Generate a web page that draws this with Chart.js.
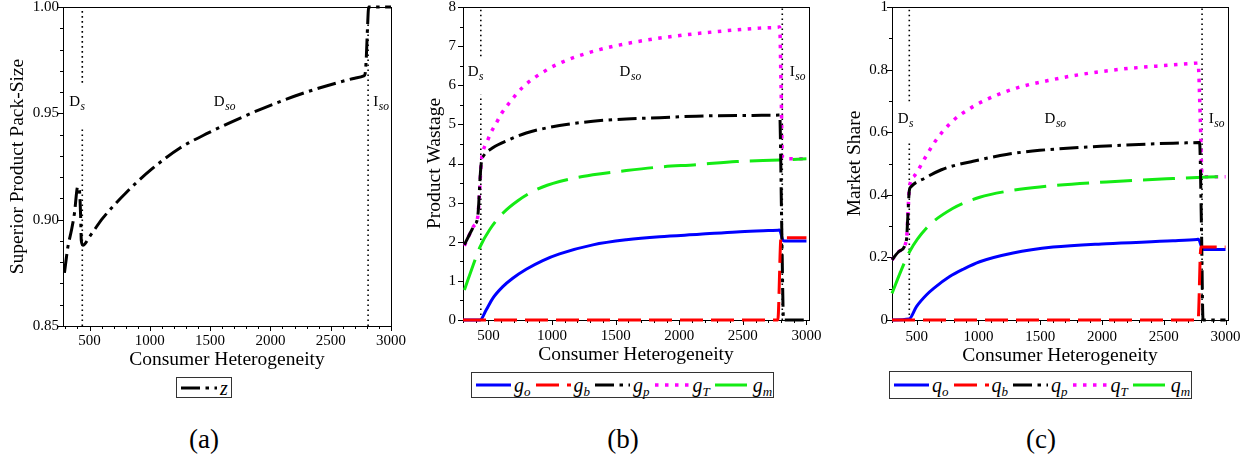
<!DOCTYPE html>
<html>
<head>
<meta charset="utf-8">
<script src="https://cdn.jsdelivr.net/npm/chart.js@4.4.1/dist/chart.umd.min.js"></script>
<style>
  body { margin: 0; background: #fff; }
  #wrap { position: relative; width: 1253px; height: 459px; overflow: hidden; font-family: 'Liberation Serif', 'Times New Roman', serif; color: #000; }
  canvas { position: absolute; top: 0; }
  .legend { position: absolute; border: 1px solid #333; box-sizing: border-box; display: flex; align-items: center; background: #fff; padding-left: 4px; }
  .item { display: flex; align-items: center; margin-right: 5px; white-space: nowrap; }
  .item svg { margin-right: 3px; }
  .lab { font-size: 20px; font-style: italic; line-height: 20px; }
  .lab sub { font-size: 13px; font-style: italic; vertical-align: -4px; line-height: 0; }
  .cap { position: absolute; font-size: 27px; line-height: 30px; top: 424px; transform: translateX(-50%); }
</style>
</head>
<body>
<div id="wrap">
  <canvas id="ca" width="420" height="372" style="left:0px"></canvas>
  <canvas id="cb" width="420" height="372" style="left:420px"></canvas>
  <canvas id="cc" width="413" height="372" style="left:840px"></canvas>
  <div class="legend" id="la" style="left:176px; top:377px; width:56px; height:21px;"></div>
  <div class="legend" id="lb" style="left:471px; top:372px; width:303px; height:26px;"></div>
  <div class="legend" id="lc" style="left:889px; top:371px; width:303px; height:28px;"></div>
  <div class="cap" style="left:204px">(a)</div>
  <div class="cap" style="left:623px">(b)</div>
  <div class="cap" style="left:1041px">(c)</div>
</div>
<script>
// ---------------- DATA ----------------
// Region boundaries (consumer heterogeneity)
const boundaryDs = 440;
const boundaryIso = 2810;

// Panel (a): superior product pack-size z
const z_x = [292, 320, 350, 375, 402, 412, 420, 426, 432, 445, 500, 610, 805, 1010, 1250, 1485, 1750, 2050, 2300, 2550, 2700, 2775, 2785, 2795, 2805, 2815, 3000];
const z_y = [0.875, 0.887, 0.895, 0.903, 0.9155, 0.915, 0.911, 0.902, 0.890, 0.888, 0.892, 0.9007, 0.9128, 0.9235, 0.9337, 0.9408, 0.9478, 0.9549, 0.960, 0.9643, 0.9665, 0.9676, 0.9685, 0.976, 0.99, 1.0, 1.0];

// Panel (b): product wastage
const go_x = [300, 435, 482, 534, 613, 691, 797, 927, 1059, 1321, 1584, 1846, 2160, 2450, 2700, 2780, 2788, 2815, 2830, 3000];
const go_y = [0, 0, 0.256, 0.555, 0.853, 1.067, 1.297, 1.52, 1.69, 1.92, 2.05, 2.13, 2.19, 2.25, 2.285, 2.297, 2.298, 2.04, 2.02, 2.02];
const gb_x = [300, 2775, 2800, 3000];
const gb_y = [0, 0, 2.1, 2.1];
const gp_x = [311, 350, 390, 416, 424, 435, 447, 458, 534, 665, 797, 1059, 1321, 1584, 1846, 2134, 2580, 2780, 2790, 2805, 2820, 3000];
const gp_y = [1.92, 2.18, 2.43, 2.64, 2.99, 3.67, 4.1, 4.18, 4.40, 4.61, 4.78, 4.97, 5.08, 5.14, 5.17, 5.21, 5.23, 5.238, 5.24, 2.5, 0, 0];
const gT_x = [311, 350, 382, 416, 429, 443, 455, 487, 521, 561, 605, 652, 770, 967, 1124, 1373, 1610, 1950, 2292, 2633, 2780, 2790, 2800, 2812, 2830, 3000];
const gT_y = [1.9, 2.18, 2.39, 2.64, 3.2, 4.01, 4.28, 4.54, 4.80, 5.03, 5.29, 5.5, 5.95, 6.41, 6.65, 6.91, 7.08, 7.25, 7.37, 7.46, 7.485, 7.49, 6.0, 4.15, 4.12, 4.12];
const gm_x = [311, 376, 435, 508, 613, 731, 875, 1059, 1321, 1584, 1846, 2134, 2450, 2790, 3000];
const gm_y = [0.768, 1.365, 1.877, 2.30, 2.73, 3.05, 3.33, 3.54, 3.71, 3.82, 3.91, 3.97, 4.05, 4.09, 4.12];

// Panel (c): market share
const qo_x = [300, 438, 498, 578, 640, 767, 880, 1010, 1280, 1604, 2036, 2575, 2770, 2780, 2812, 2830, 3000];
const qo_y = [0, 0.003, 0.043, 0.08, 0.102, 0.139, 0.163, 0.186, 0.214, 0.233, 0.244, 0.253, 0.2575, 0.258, 0.228, 0.225, 0.225];
const qb_x = [300, 2778, 2800, 3000];
const qb_y = [0, 0, 0.233, 0.233];
const qp_x = [300, 360, 417, 428, 440, 452, 565, 700, 820, 956, 1226, 1496, 2036, 2576, 2780, 2790, 2805, 2818, 3000];
const qp_y = [0.192, 0.22, 0.256, 0.33, 0.413, 0.425, 0.453, 0.48, 0.495, 0.507, 0.529, 0.542, 0.556, 0.565, 0.5668, 0.567, 0.3, 0, 0];
const qT_x = [300, 360, 417, 428, 440, 484, 578, 659, 781, 915, 1064, 1307, 1563, 1820, 2171, 2441, 2768, 2778, 2795, 2810, 2830, 3000];
const qT_y = [0.192, 0.22, 0.256, 0.33, 0.42, 0.462, 0.525, 0.576, 0.632, 0.672, 0.704, 0.741, 0.765, 0.784, 0.802, 0.811, 0.8207, 0.821, 0.65, 0.46, 0.458, 0.458];
const qm_x = [300, 376, 443, 578, 794, 1010, 1226, 1496, 2036, 2576, 3000];
const qm_y = [0.085, 0.16, 0.219, 0.293, 0.357, 0.392, 0.411, 0.425, 0.441, 0.452, 0.459];

// Axis titles
const xTitle = 'Consumer Heterogeneity';
const yTitles = ['Superior Product Pack-Size', 'Product Wastage', 'Market Share'];

// ---------------- HELPERS ----------------
const FONT = "'Liberation Serif', 'Times New Roman', serif";
const pts = (xs, ys) => xs.map((x, i) => ({ x: x, y: ys[i] }));
const isMult = (v, s) => Math.abs(v / s - Math.round(v / s)) < 1e-6;

function series(label, sub, xs, ys, color, dash, order, width) {
  return {
    label: label, sub: sub, data: pts(xs, ys), borderColor: color, backgroundColor: color,
    borderWidth: width || 3, borderDash: dash, pointRadius: 0, fill: false, order: order,
    cubicInterpolationMode: 'monotone', borderCapStyle: 'butt', clip: 3, isSeries: true
  };
}
function boundary(xv, ymin, ymax, gapLo, gapHi) {
  const d = gapLo == null
    ? [{ x: xv, y: ymin }, { x: xv, y: ymax }]
    : [{ x: xv, y: ymin }, { x: xv, y: gapLo }, { x: xv, y: null }, { x: xv, y: gapHi }, { x: xv, y: ymax }];
  return { data: d, borderColor: '#000', borderWidth: 1.6, borderDash: [1.6, 3.4], pointRadius: 0,
           tension: 0, spanGaps: false, order: 10, isSeries: false };
}

const framePlugin = {
  id: 'frame',
  beforeDatasetsDraw(chart, args, o) {
    const { ctx, chartArea: a, scales: { x, y } } = chart;
    ctx.save();
    ctx.strokeStyle = '#000';
    ctx.lineWidth = 1;
    ctx.strokeRect(Math.round(a.left) + 0.5, Math.round(a.top) + 0.5, Math.round(a.right - a.left), Math.round(a.bottom - a.top));
    ctx.beginPath();
    x.ticks.forEach(t => {
      if (!isMult(t.value, o.xMinor)) return;
      const px = Math.round(x.getPixelForValue(t.value)) + 0.5;
      const len = isMult(t.value, o.xMajor) ? 5 : 3;
      ctx.moveTo(px, Math.round(a.bottom)); ctx.lineTo(px, Math.round(a.bottom) + len);
    });
    y.ticks.forEach(t => {
      if (!isMult(t.value, o.yMinor)) return;
      const py = Math.round(y.getPixelForValue(t.value)) + 0.5;
      const len = isMult(t.value, o.yMajor) ? 5 : 3;
      ctx.moveTo(Math.round(a.left), py); ctx.lineTo(Math.round(a.left) - len, py);
    });
    ctx.stroke();
    ctx.restore();
  }
};

const annotPlugin = {
  id: 'annot',
  afterDatasetsDraw(chart, args, o) {
    const { ctx, scales: { x, y } } = chart;
    (o.labels || []).forEach(l => {
      const px = x.getPixelForValue(l.x), py = y.getPixelForValue(l.y);
      ctx.save();
      ctx.fillStyle = '#000';
      ctx.textAlign = 'left';
      ctx.textBaseline = 'alphabetic';
      ctx.font = '15px ' + FONT;
      ctx.fillText(l.main, px, py);
      const w = ctx.measureText(l.main).width;
      ctx.font = 'italic 11.5px ' + FONT;
      ctx.fillText(l.sub, px + w + 0.5, py + 4);
      ctx.restore();
    });
  }
};

function makeChart(id, cfg) {
  const yfmt = cfg.yfmt;
  return new Chart(document.getElementById(id), {
    type: 'line',
    data: { datasets: cfg.datasets },
    plugins: [framePlugin, annotPlugin],
    options: {
      responsive: false, animation: false, devicePixelRatio: 1,
      layout: { padding: { left: 0, top: 7, right: cfg.padRight, bottom: 0 } },
      plugins: {
        legend: { display: false }, tooltip: { enabled: false },
        frame: { xMajor: 500, xMinor: 100, yMajor: cfg.yMajor, yMinor: cfg.yMinor },
        annot: { labels: cfg.labels }
      },
      scales: {
        x: {
          type: 'linear', min: cfg.xmin, max: cfg.xmax,
          grid: { display: false, drawTicks: false }, border: { display: false },
          ticks: {
            stepSize: 100, autoSkip: false, includeBounds: false, maxRotation: 0, padding: cfg.xPad,
            color: '#000', font: { family: FONT, size: 15 },
            callback: v => isMult(v, 500) ? String(Math.round(v)) : ''
          },
          title: { display: true, text: xTitle, color: '#000', font: { family: FONT, size: 19.5 }, padding: { top: 0, bottom: cfg.xTitlePad } },
          afterFit: s => { s.height = cfg.xHeight; s.paddingLeft = 0; s.paddingRight = 0; }
        },
        y: {
          type: 'linear', min: cfg.ymin, max: cfg.ymax,
          grid: { display: false, drawTicks: false }, border: { display: false },
          ticks: {
            stepSize: cfg.yMinor, autoSkip: false, includeBounds: false, padding: cfg.yPad,
            color: '#000', font: { family: FONT, size: 15 },
            callback: v => isMult(v, cfg.yMajor) ? yfmt(v) : ''
          },
          title: { display: true, text: cfg.yTitle, color: '#000', font: { family: FONT, size: 19.5 }, padding: { top: cfg.yTitlePad, bottom: 0 } },
          afterFit: s => { s.width = cfg.yWidth; s.paddingTop = 0; s.paddingBottom = 0; }
        }
      }
    }
  });
}

function buildLegend(id, datasets, sampleLen) {
  const el = document.getElementById(id);
  datasets.filter(d => d.isSeries).sort((a, b) => a.legendIdx - b.legendIdx).forEach(d => {
    const item = document.createElement('div');
    item.className = 'item';
    const dash = (d.borderDash || []).join(' ');
    item.innerHTML = '<svg width="' + sampleLen + '" height="8"><line x1="0" y1="4" x2="' + sampleLen + '" y2="4" stroke="' + d.borderColor +
      '" stroke-width="' + d.borderWidth + '" stroke-dasharray="' + dash + '"/></svg>' +
      '<span class="lab"><i>' + d.label + '</i>' + (d.sub ? '<sub>' + d.sub + '</sub>' : '') + '</span>';
    el.appendChild(item);
  });
}

// ---------------- COLORS / STYLES ----------------
const BLUE = 'rgb(0,0,255)', RED = 'rgb(255,0,0)', BLACK = '#000', MAG = 'rgb(255,0,255)', GREEN = 'rgb(20,235,20)';
const DASH_B = [23, 8], DASH_P = [19, 5.5, 3.5, 5.5], DASH_T = [3.5, 6.5], DASH_M = [32, 11], DASH_Z = [19, 5.5, 3.5, 5.5];

// ---------------- PANEL (a) ----------------
const dsA = [
  Object.assign(series('z', '', z_x, z_y, BLACK, DASH_Z, 0, 3), { legendIdx: 0 }),
  boundary(boundaryDs, 0.85, 1.0, 0.9433, 0.9644),
  boundary(boundaryIso, 0.85, 1.0)
];
makeChart('ca', {
  datasets: dsA, xmin: 280, xmax: 3000, ymin: 0.85, ymax: 1.0, yMajor: 0.05, yMinor: 0.01,
  yfmt: v => v.toFixed(2), yTitle: yTitles[0], padRight: 29, xHeight: 46, yWidth: 63,
  xPad: 6, yPad: 4, xTitlePad: 0, yTitlePad: 6,
  labels: [{ x: 331, y: 0.9536, main: 'D', sub: 's' }, { x: 1531, y: 0.9536, main: 'D', sub: 'so' }, { x: 2853, y: 0.9536, main: 'I', sub: 'so' }]
});
buildLegend('la', dsA, 36);

// ---------------- PANEL (b) ----------------
const dsB = [
  Object.assign(series('g', 'o', go_x, go_y, BLUE, [], 3), { legendIdx: 0 }),
  Object.assign(series('g', 'b', gb_x, gb_y, RED, DASH_B, 1), { legendIdx: 1 }),
  Object.assign(series('g', 'p', gp_x, gp_y, BLACK, DASH_P, 2), { legendIdx: 2 }),
  Object.assign(series('g', 'T', gT_x, gT_y, MAG, DASH_T, 5, 3.5), { legendIdx: 3 }),
  Object.assign(series('g', 'm', gm_x, gm_y, GREEN, DASH_M, 4), { legendIdx: 4 }),
  boundary(boundaryDs, 0, 8, 5.76, 6.74),
  boundary(boundaryIso, 0, 8)
];
makeChart('cb', {
  datasets: dsB, xmin: 300, xmax: 3020, ymin: 0, ymax: 8, yMajor: 1, yMinor: 0.5,
  yfmt: v => String(Math.round(v)), yTitle: yTitles[1], padRight: 31, xHeight: 52, yWidth: 43,
  xPad: 7, yPad: 7, xTitlePad: 5, yTitlePad: 3,
  labels: [{ x: 337, y: 6.23, main: 'D', sub: 's' }, { x: 1531, y: 6.23, main: 'D', sub: 'so' }, { x: 2869, y: 6.23, main: 'I', sub: 'so' }]
});
buildLegend('lb', dsB, 35);

// ---------------- PANEL (c) ----------------
const dsC = [
  Object.assign(series('q', 'o', qo_x, qo_y, BLUE, [], 3), { legendIdx: 0 }),
  Object.assign(series('q', 'b', qb_x, qb_y, RED, DASH_B, 1), { legendIdx: 1 }),
  Object.assign(series('q', 'p', qp_x, qp_y, BLACK, DASH_P, 2), { legendIdx: 2 }),
  Object.assign(series('q', 'T', qT_x, qT_y, MAG, DASH_T, 5, 3.5), { legendIdx: 3 }),
  Object.assign(series('q', 'm', qm_x, qm_y, GREEN, DASH_M, 4), { legendIdx: 4 }),
  boundary(boundaryDs, 0, 1, 0.5654, 0.6986),
  boundary(boundaryIso, 0, 1)
];
makeChart('cc', {
  datasets: dsC, xmin: 300, xmax: 3020, ymin: 0, ymax: 1, yMajor: 0.2, yMinor: 0.1,
  yfmt: v => (Math.abs(v) < 1e-9 ? '0' : Math.abs(v - 1) < 1e-9 ? '1' : v.toFixed(1)), yTitle: yTitles[2],
  padRight: 25, xHeight: 52, yWidth: 52, xPad: 8, yPad: 4, xTitlePad: 4, yTitlePad: 3,
  labels: [{ x: 346, y: 0.629, main: 'D', sub: 's' }, { x: 1535, y: 0.629, main: 'D', sub: 'so' }, { x: 2865, y: 0.629, main: 'I', sub: 'so' }]
});
buildLegend('lc', dsC, 35);
</script>
</body>
</html>
